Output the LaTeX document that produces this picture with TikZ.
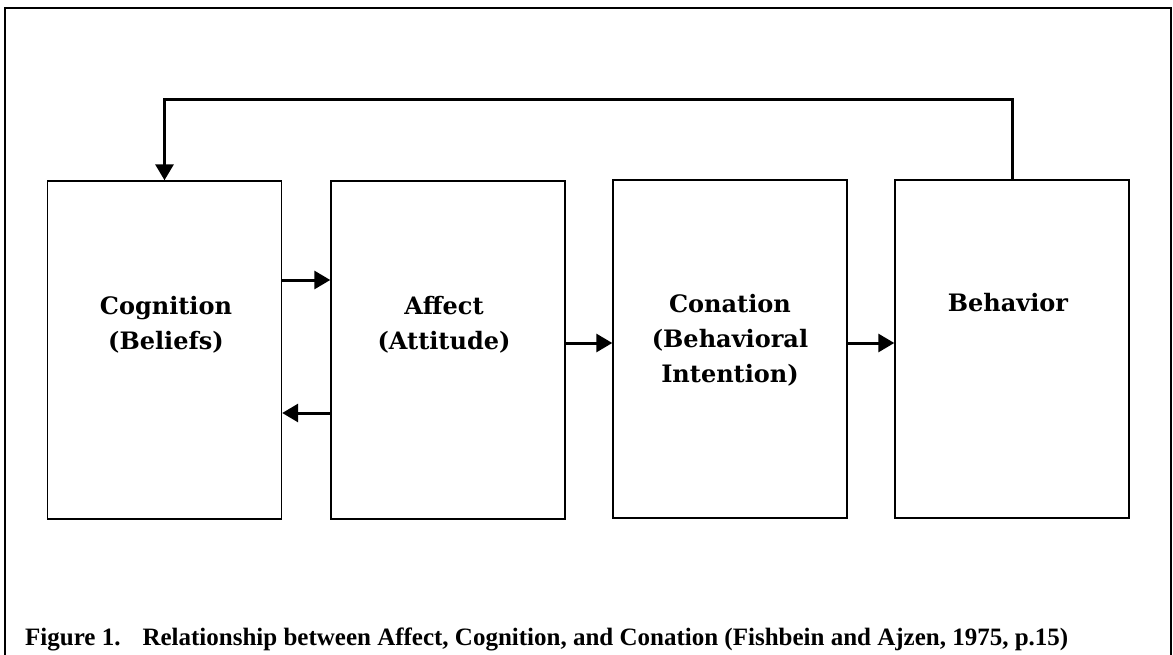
\documentclass[tikz,border=0pt]{standalone}
\usepackage{fontspec}
\setmainfont{Liberation Serif}
\newfontfamily\boxfont{DejaVu Serif}
\usetikzlibrary{arrows.meta}
\tikzset{
  stage/.style={draw, line width=1.4pt, minimum width=234pt, minimum height=338pt, inner sep=0pt},
  stagetext/.style={align=center, font=\boxfont\bfseries\fontsize{24}{35}\selectfont, inner sep=0pt},
  conn/.style={line width=3pt, -{Triangle[length=16pt,width=18pt]}},
  frame/.style={line width=2.5pt},
}
\begin{document}
\begin{tikzpicture}[x=1pt,y=-1pt]
\clip (0,0) rectangle (1173,655);
\useasboundingbox (0,0) rectangle (1173,655);
\draw[frame] (5,670) -- (5,8) -- (1171,8) -- (1171,670);

\node[stage] (b1) at (164.5,350) {};
\node[stage] (b2) at (448,350) {};
\node[stage] (b3) at (730,349) {};
\node[stage] (b4) at (1012,349) {};

\node[stagetext] (t1) at (166,325) {Cognition\\(Beliefs)};
\node[stagetext] (t2) at (444,325) {Affect\\(Attitude)};
\node[stagetext] (t3) at (730,340) {Conation\\(Behavioral\\Intention)};
\node[stagetext] (t4) at (1008,303) {Behavior};

\coordinate (ya) at (0,280);
\coordinate (yb) at (0,413);
\coordinate (yc) at (0,343);
\coordinate (top) at (0,100);

\draw[conn] (b1.east |- ya) -- (b2.west |- ya);
\draw[conn] (b2.west |- yb) -- (b1.east |- yb);
\draw[conn] (b2.east |- yc) -- (b3.west |- yc);
\draw[conn] (b3.east |- yc) -- (b4.west |- yc);
\draw[conn] (b4.north) -- (b4.north |- top) -- (b1.north |- top) -- (b1.north);

\node[anchor=base west, font=\bfseries\fontsize{25}{30}\selectfont, inner sep=0pt] (cap) at (25,645)
  {Figure 1.\hspace{22pt}Relationship between Affect, Cognition, and Conation (Fishbein and Ajzen, 1975, p.15)};
\end{tikzpicture}
\end{document}
